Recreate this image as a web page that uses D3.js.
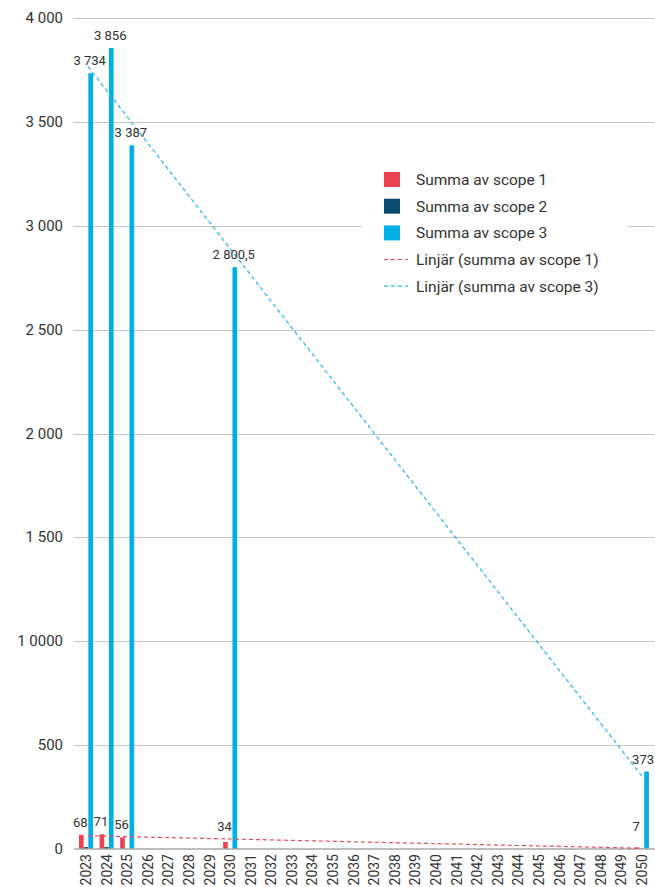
<!DOCTYPE html>
<html>
<head>
<meta charset="utf-8">
<script src="https://cdn.jsdelivr.net/npm/d3@7"></script>
<style>
  body { margin: 0; background: #fff; overflow: hidden; }
  text { font-family: Roboto, "Noto Sans", sans-serif; fill: #333; }
</style>
</head>
<body>
<script>
// data
var years = ["2023","2024","2025","2026","2027","2028","2029","2030","2031","2032","2033",
  "2034","2035","2036","2037","2038","2039","2040","2041","2042","2043","2044","2045",
  "2046","2047","2048","2049","2050"];
var scope1 = [68, 71, 56, null, null, null, null, 34, null, null, null, null, null, null,
  null, null, null, null, null, null, null, null, null, null, null, null, null, 7];
var scope2 = [9, 9, null, null, null, null, null, null, null, null, null, null, null, null,
  null, null, null, null, null, null, null, null, null, null, null, null, null, null];
var scope3 = [3734, 3856, 3387, null, null, null, null, 2800.5, null, null, null, null, null, null,
  null, null, null, null, null, null, null, null, null, null, null, null, null, 373];
var yTicks = [0, 500, 1000, 1500, 2000, 2500, 3000, 3500, 4000];
var yTickLabels = ["0", "500", "1 0000", "1 500", "2 000", "2 500", "3 000", "3 500", "4 000"];
var seriesNames = ["Summa av scope 1", "Summa av scope 2", "Summa av scope 3"];
var trendNames = ["Linjär (summa av scope 1)", "Linjär (summa av scope 3)"];

var colors = ["#ec4350", "#0a4c6e", "#00aee8"];
var trendColors = ["#ec4a57", "#22b4e6"];

function fmt(v){
    // swedish style: space thousands, comma decimals
    var s = v.toString().split(".");
    s[0] = s[0].replace(/\B(?=(\d{3})+(?!\d))/g, " ");
    return s.join(",");
}

function drawChart(){
    var W = 655, H = 887;
    var svg = d3.select("body").append("svg")
        .attr("width", W)
        .attr("height", H);

    var x = d3.scaleBand()
        .domain(years)
        .range([75.7, 652.2]);
    var sub = d3.scaleBand()
        .domain([0, 1, 2])
        .range([-7, 7]);
    var y = d3.scaleLinear()
        .domain([0, 4000])
        .range([849, 18]);

    // gridlines
    svg.append("g").selectAll("line")
        .data(yTicks.slice(1))
        .enter().append("line")
        .attr("x1", 74).attr("x2", W)
        .attr("y1", function(d){ return Math.round(y(d)) + 0.5; })
        .attr("y2", function(d){ return Math.round(y(d)) + 0.5; })
        .attr("stroke", "#c4c4c4")
        .attr("stroke-width", 1);

    // y labels
    svg.append("g").selectAll("text")
        .data(yTicks)
        .enter().append("text")
        .attr("x", 63)
        .attr("y", function(d){ return y(d) + 5; })
        .attr("text-anchor", "end")
        .style("font-size", "15px")
        .text(function(d, i){ return yTickLabels[i]; });

    // x labels, rotated
    svg.append("g").selectAll("text")
        .data(years)
        .enter().append("text")
        .attr("transform", function(d){
            return "translate(" + (x(d) + x.bandwidth() / 2 + 5) + ",854) rotate(-90)";
        })
        .attr("text-anchor", "end")
        .style("font-size", "14px")
        .text(function(d){ return d; });

    // bars
    var all = [scope1, scope2, scope3];
    all.forEach(function(vals, s){
        var pts = years.map(function(yr, i){ return {yr: yr, v: vals[i]}; })
            .filter(function(d){ return d.v != null; });
        svg.append("g").selectAll("rect")
            .data(pts)
            .enter().append("rect")
            .attr("x", function(d){ return x(d.yr) + x.bandwidth() / 2 + sub(s); })
            .attr("width", sub.bandwidth())
            .attr("y", function(d){ return y(d.v); })
            .attr("height", function(d){ return y(0) - y(d.v); })
            .attr("fill", colors[s]);
    });

    // baseline
    svg.append("line")
        .attr("x1", 74).attr("x2", W)
        .attr("y1", 849).attr("y2", 849)
        .attr("stroke", "#a8a8a8")
        .attr("stroke-width", 1.5);

    // linear trend lines (least squares over category index)
    [scope1, scope3].forEach(function(vals, t){
        var pts = [];
        vals.forEach(function(v, i){ if (v != null) pts.push([i, v]); });
        var mx = d3.mean(pts, function(p){ return p[0]; });
        var my = d3.mean(pts, function(p){ return p[1]; });
        var sxy = d3.sum(pts, function(p){ return (p[0] - mx) * (p[1] - my); });
        var sxx = d3.sum(pts, function(p){ return (p[0] - mx) * (p[0] - mx); });
        var b = sxy / sxx, a = my - b * mx;
        var i0 = pts[0][0], i1 = pts[pts.length - 1][0];
        svg.append("line")
            .attr("x1", x(years[i0]) + x.bandwidth() / 2 + 2)
            .attr("x2", x(years[i1]) + x.bandwidth() / 2)
            .attr("y1", y(a + b * i0))
            .attr("y2", y(a + b * i1))
            .attr("stroke", trendColors[t])
            .attr("stroke-width", 1.2)
            .attr("stroke-dasharray", "4,3");
    });

    // value labels
    [scope1, scope3].forEach(function(vals, k){
        var s = k === 0 ? 0 : 2;
        var pts = years.map(function(yr, i){ return {yr: yr, v: vals[i]}; })
            .filter(function(d){ return d.v != null; });
        svg.append("g").selectAll("text")
            .data(pts)
            .enter().append("text")
            .attr("x", function(d){ return x(d.yr) + x.bandwidth() / 2 + sub(s) + sub.bandwidth() / 2 - 1; })
            .attr("y", function(d){ return Math.min(y(d.v), 839) - 8; })
            .attr("text-anchor", "middle")
            .style("font-size", "13px")
            .text(function(d){ return fmt(d.v); })
            .each(function(){
                // keep label inside the right edge
                var bb = this.getBBox();
                if (bb.x + bb.width > W - 1) {
                    d3.select(this).attr("x", +d3.select(this).attr("x") - (bb.x + bb.width - W + 1));
                }
            });
    });

    // legend
    var lg = svg.append("g");
    lg.append("rect")
        .attr("x", 362).attr("y", 164)
        .attr("width", 266).attr("height", 136)
        .attr("fill", "#fff");
    seriesNames.forEach(function(n, i){
        var cy = 179.5 + i * 26.7;
        lg.append("rect")
            .attr("x", 384).attr("y", cy - 7.5)
            .attr("width", 16).attr("height", 15)
            .attr("fill", colors[i]);
        lg.append("text")
            .attr("x", 416).attr("y", cy + 5.5)
            .style("font-size", "15.5px")
            .text(n);
    });
    trendNames.forEach(function(n, i){
        var cy = 259.5 + i * 26.7;
        lg.append("line")
            .attr("x1", 384).attr("x2", 408)
            .attr("y1", cy).attr("y2", cy)
            .attr("stroke", trendColors[i])
            .attr("stroke-width", 1.2)
            .attr("stroke-dasharray", "4,3");
        lg.append("text")
            .attr("x", 416).attr("y", cy + 5.5)
            .style("font-size", "15.5px")
            .text(n);
    });
}

window.onload = drawChart;
</script>
</body>
</html>
